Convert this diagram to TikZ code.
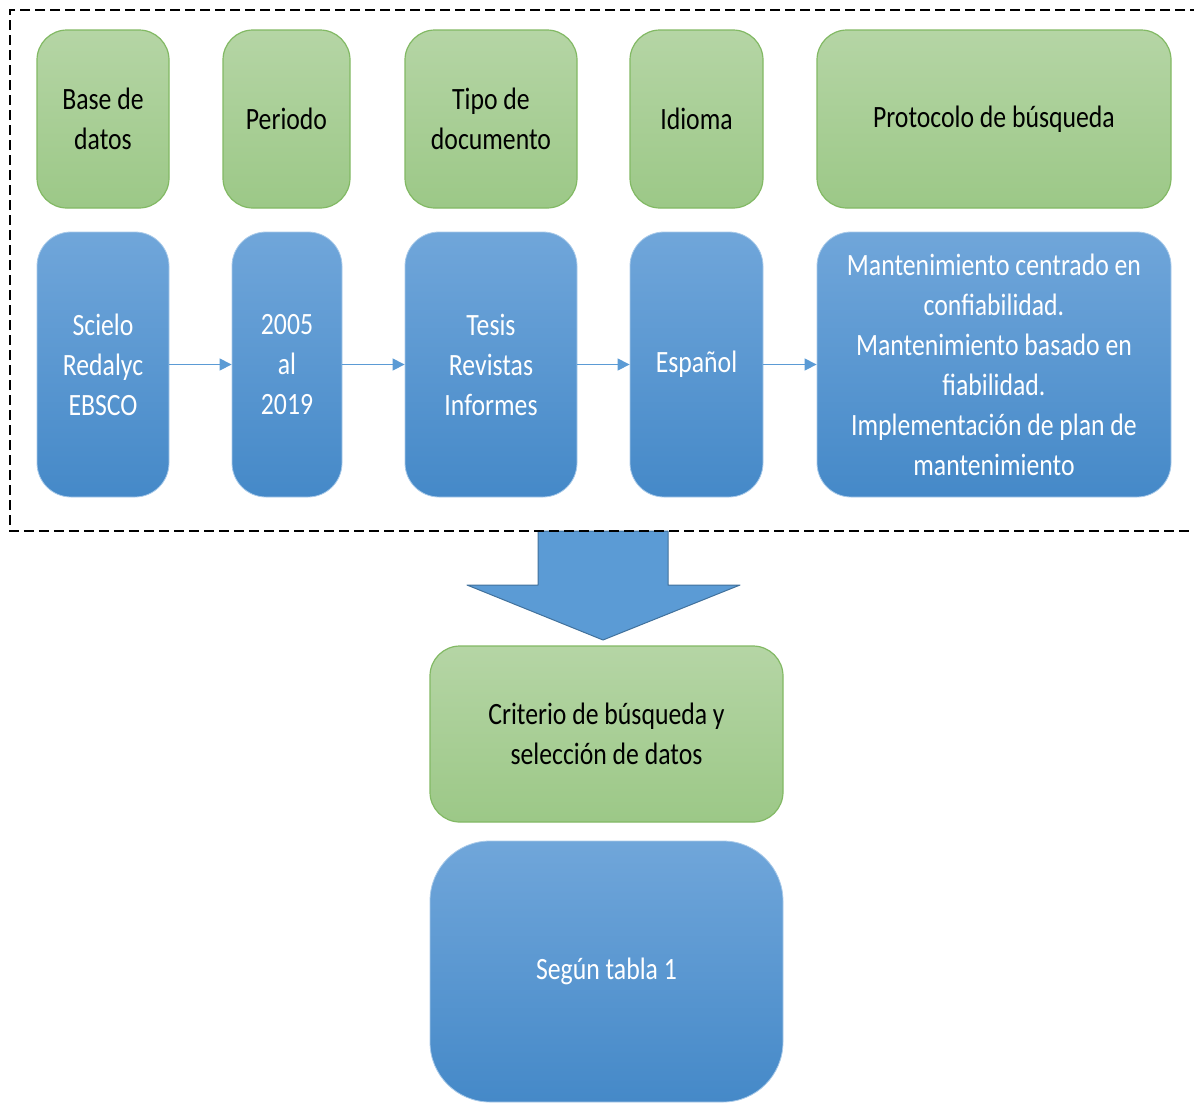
\documentclass[tikz,border=0pt]{standalone}
\usepackage{fontspec}
\setmainfont[FakeStretch=0.83]{Carlito}
\usetikzlibrary{positioning}
\usetikzlibrary{arrows.meta}
\definecolor{grtop}{RGB}{181,213,165}
\definecolor{grbot}{RGB}{156,200,135}
\definecolor{grline}{RGB}{130,185,100}
\definecolor{bltop}{RGB}{112,166,218}
\definecolor{blbot}{RGB}{69,137,200}
\definecolor{blline}{RGB}{91,155,213}
\definecolor{bldark}{RGB}{65,113,156}

\tikzset{
  greenbox/.style={draw=grline, line width=0.6pt, top color=grtop, bottom color=grbot,
    rounded corners=15pt, minimum height=89pt, align=center, text=black, inner sep=2pt},
  bluebox/.style={draw=bltop!60, line width=0.4pt, top color=bltop, bottom color=blbot,
    rounded corners=17pt, minimum height=132.5pt, align=center, text=white, inner sep=2pt},
  link/.style={-{Triangle[length=6pt,width=6pt]}, draw=blline, line width=0.6pt}
}

\begin{document}
\begin{tikzpicture}[x=0.5pt, y=-0.5pt, font=\fontsize{15.5pt}{20pt}\selectfont]
        \useasboundingbox (0,0) rectangle (1194,1104);
        % nodes %
        \node[greenbox, minimum width=66pt] (base) at (103,119) {Base de\\datos};
        \node[greenbox, minimum width=63.5pt] (periodo) at (286.5,119) {Periodo};
        \node[greenbox, minimum width=86pt] (tipo) at (491,119) {Tipo de\\documento};
        \node[greenbox, minimum width=66.5pt] (idioma) at (696.5,119) {Idioma};
        \node[greenbox, minimum width=177pt] (protocolo) at (994,119) {Protocolo de búsqueda};

        \node[bluebox, minimum width=66pt] (fuentes) at (103,364.5) {Scielo\\Redalyc\\EBSCO};
        \node[bluebox, minimum width=55pt] (anios) at (287,364.5) {2005\\al\\2019};
        \node[bluebox, minimum width=86pt] (docs) at (491,364.5) {Tesis\\Revistas\\Informes};
        \node[bluebox, minimum width=66.5pt] (espanol) at (696.5,364.5) {Español};
        \node[bluebox, minimum width=177pt] (temas) at (994,364.5)
          {Mantenimiento centrado en\\confiabilidad.\\Mantenimiento basado en\\fiabilidad.\\Implementación de plan de\\mantenimiento};

        \node[greenbox, minimum width=176.5pt, minimum height=88pt] (criterio) at (606.5,734)
          {Criterio de búsqueda y\\selección de datos};
        \node[bluebox, minimum width=176.5pt, minimum height=130.5pt, rounded corners=30pt] (segun) at (606.5,971.5)
          {Según tabla 1};

        % edges %
        \draw[link] (fuentes) -- (anios);
        \draw[link] (anios) -- (docs);
        \draw[link] (docs) -- (espanol);
        \draw[link] (espanol) -- (temas);

        % big arrow %
        \draw[fill=blline, draw=bldark, line width=0.5pt, line join=round]
          (538,531) -- (668,531) -- (668,585) -- (740,585) -- (603,640) -- (467,585) -- (538,585) -- cycle;

        % frame %
        \draw[dash pattern=on 5pt off 2.5pt, line width=0.9pt] (1200,10) -- (10,10) -- (10,531) -- (1200,531);
      \end{tikzpicture}
\end{document}
